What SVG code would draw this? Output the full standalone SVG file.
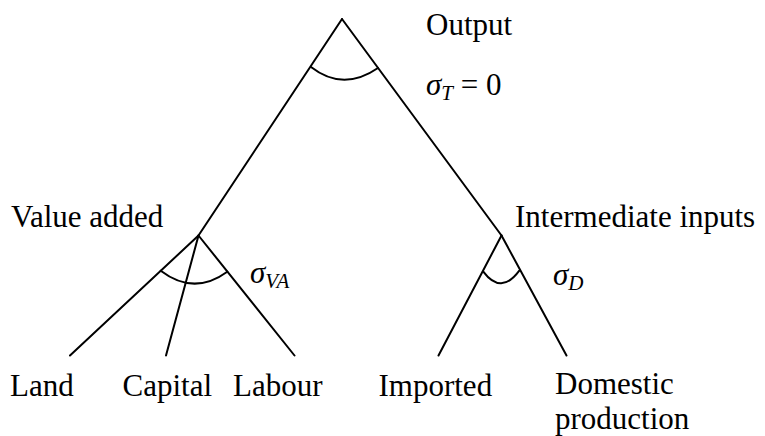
<svg xmlns="http://www.w3.org/2000/svg" width="765" height="436" viewBox="0 0 765 436">
<style>
.t{font-size:31px;fill:#000}
.l{stroke:#000;stroke-width:2;fill:none;stroke-linecap:round}
.it{font-style:italic}
.sub{font-size:21px;font-style:italic}
</style>
<rect width="765" height="436" fill="#fff"/>
<g id="connectors">
<path class="l" d="M342,19 L198.5,235.5"/>
<path class="l" d="M342,19 L501.5,235.5"/>
<path class="l" d="M198.5,235.5 L70,355.5"/>
<path class="l" d="M198.5,235.5 L166,355.5"/>
<path class="l" d="M198.5,235.5 L294.5,355.5"/>
<path class="l" d="M501.5,235.5 L438.5,355.5"/>
<path class="l" d="M501.5,235.5 L566.5,355.5"/>
<path class="l" d="M311,67 Q343,92 378,68"/>
<path class="l" d="M160.7,270.7 Q194,296 227.3,271.7"/>
<path class="l" d="M483.3,271.7 Q501,295.4 519.3,270.7"/>
</g>
<g font-family="Liberation Serif, DejaVu Serif, serif">
<g id="output"><text class="t" x="426" y="35" font-family="Liberation Serif, serif">Output</text>
<text class="t" x="426" y="95" font-family="Liberation Serif, serif"><tspan class="it">σ</tspan><tspan class="sub" dy="5">T</tspan><tspan dy="-5"> = 0</tspan></text></g>
<g id="value-added"><text class="t" x="11" y="227" font-family="Liberation Serif, serif">Value added</text>
<text class="t" x="250" y="283" font-family="Liberation Serif, serif"><tspan class="it">σ</tspan><tspan class="sub" dy="5">VA</tspan></text></g>
<g id="intermediate"><text class="t" x="515" y="227" font-family="Liberation Serif, serif">Intermediate inputs</text>
<text class="t" x="553" y="285" font-family="Liberation Serif, serif"><tspan class="it">σ</tspan><tspan class="sub" dy="5">D</tspan></text></g>
<g id="land"><text class="t" x="10" y="396" font-family="Liberation Serif, serif">Land</text></g>
<g id="capital"><text class="t" x="122.5" y="396" font-family="Liberation Serif, serif">Capital</text></g>
<g id="labour"><text class="t" x="233" y="396" font-family="Liberation Serif, serif">Labour</text></g>
<g id="imported"><text class="t" x="378.5" y="396" font-family="Liberation Serif, serif">Imported</text></g>
<g id="domestic"><text class="t" x="555" y="394" font-family="Liberation Serif, serif">Domestic</text><text class="t" x="555" y="429" font-family="Liberation Serif, serif">production</text></g>
</g>
</svg>
